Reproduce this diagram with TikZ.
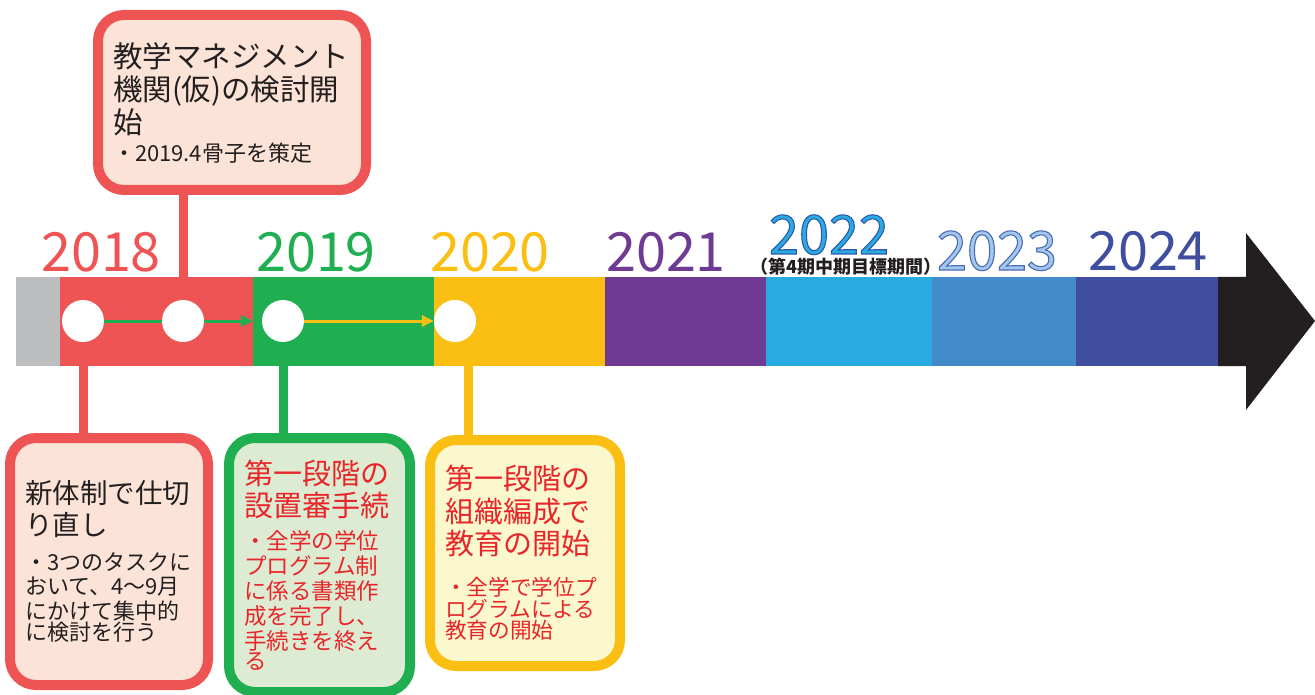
\documentclass[tikz,border=0pt]{standalone}
\usepackage{fontspec}
\setmainfont{Noto Sans CJK JP}
\usetikzlibrary{positioning,arrows.meta}
\newcommand{\rimtext}[2]{\special{pdf:literal direct 2 Tr 1.1 w #1 RG}#2\special{pdf:literal direct 0 Tr}}
\definecolor{tlred}{HTML}{EF5455}
\definecolor{tlgreen}{HTML}{1FAF50}
\definecolor{tlyellow}{HTML}{FBBF13}
\definecolor{tlpurple}{HTML}{6E3A92}
\definecolor{tlcyan}{HTML}{29ABE2}
\definecolor{tlsteel}{HTML}{428BC8}
\definecolor{tlnavy}{HTML}{404E9F}
\definecolor{tlblack}{HTML}{231F20}
\definecolor{tlgray}{HTML}{BDBEC0}
\definecolor{tlpeach}{HTML}{FBE3D7}
\definecolor{tlmint}{HTML}{DEEBD3}
\definecolor{tlcream}{HTML}{FBF8CE}
\definecolor{tltext}{HTML}{231F20}
\definecolor{tlalert}{HTML}{E8262A}
\definecolor{tlpale}{HTML}{A3C6EC}

\begin{document}
\begin{tikzpicture}[x=1pt,y=-1pt,
    seg/.style={fill=#1,minimum height=89pt,inner sep=0pt,outer sep=0pt},
    dot/.style={circle,fill=white,minimum size=42pt,inner sep=0pt},
    year/.style={text=#1,font=\fontsize{54}{54}\selectfont,anchor=base,inner sep=0pt},
    box/.style={draw=#1,line width=10pt,rounded corners=26pt,outer sep=0pt,
      align=left,inner xsep=15pt,inner ysep=0pt},
    link/.style={draw=#1,line width=9pt},
    flow/.style={draw=#1,line width=3pt}]
  \useasboundingbox (0,0) rectangle (1315,695);

  % the bar
  \node[seg=tlgray,minimum width=44pt,anchor=north west] (gseg) at (16,277) {};
  \node[seg=tlred,minimum width=193pt,right=0pt of gseg] (rseg) {};
  \node[seg=tlgreen,minimum width=181pt,right=0pt of rseg] (eseg) {};
  \node[seg=tlyellow,minimum width=171pt,right=0pt of eseg] (yseg) {};
  \node[seg=tlpurple,minimum width=161pt,right=0pt of yseg] (pseg) {};
  \node[seg=tlcyan,minimum width=166pt,right=0pt of pseg] (cseg) {};
  \node[seg=tlsteel,minimum width=144pt,right=0pt of cseg] (sseg) {};
  \node[seg=tlnavy,minimum width=142pt,right=0pt of sseg] (nseg) {};
  \fill[tlblack] (nseg.north east) -- (1246,277) -- (1246,233) -- (1315,321)
    -- (1246,410) -- (1246,366) -- (nseg.south east) -- cycle;

  % years
  \node[year=tlred] (y2018) at (101,272) {2018};
  \node[year=tlgreen] (y2019) at (316,272) {2019};
  \node[year=tlyellow] (y2020) at (490,272) {2020};
  \node[year=tlpurple] (y2021) at (666,272) {2021};
  \node[year=tlcyan] (y2022) at (829,254) {\rimtext{0.18 0.35 0.66}{2022}};
  \node[year=tlpale] (y2023) at (997,270) {\rimtext{0.29 0.42 0.71}{2023}};
  \node[year=tlnavy] (y2024) at (1148,270) {2024};
  \node[text=tltext,font=\fontsize{18}{18}\selectfont\bfseries,inner sep=0pt]
    (term) at (846,267) {（第4期中期目標期間）};

  % milestones
  \node[dot] (c1) at (83,321) {};
  \node[dot] (c2) at (183,321) {};
  \node[dot] (c3) at (283,321) {};
  \node[dot] (c4) at (455,321) {};
  \draw[flow=tlgreen] (c1.east) -- (c2.west);
  \draw[flow=tlgreen,-{Triangle[length=12pt,width=11pt]}] (c2.east) -- (c2 -| rseg.east);
  \draw[flow=tlyellow,-{Triangle[length=12pt,width=11pt]}] (c3.east) -- (c4.west);

  % boxes
  \node[box=tlred,fill=tlpeach,text=tltext,text width=238pt,minimum height=175pt]
    (plan) at (232,102.5) {\fontsize{29.5}{33}\selectfont
    教学マネジメント\\機関(仮)の検討開\\始\par\vspace{6pt}
    \fontsize{22}{24}\selectfont ・2019.4骨子を策定};
  \node[box=tlred,fill=tlpeach,text=tltext,text width=168pt,minimum height=247pt]
    (reset) at (109,561.5) {\fontsize{27.5}{32}\selectfont
    新体制で仕切\\り直し\par\vspace{10pt}
    \fontsize{22}{24.7}\selectfont ・3つのタスクに\\おいて、4〜9月\\にかけて集中的\\に検討を行う};
  \node[box=tlgreen,fill=tlmint,text=tlalert,text width=151pt,minimum height=254pt]
    (apply) at (319.5,565) {\fontsize{29}{32}\selectfont
    第一段階の\\設置審手続\par\vspace{8pt}
    \fontsize{22.5}{25}\selectfont ・全学の学位\\プログラム制\\に係る書類作\\成を完了し、\\手続きを終え\\る};
  \node[box=tlyellow,fill=tlcream,text=tlalert,text width=160pt,minimum height=226pt]
    (start) at (525,553) {\fontsize{29}{32.5}\selectfont
    第一段階の\\組織編成で\\教育の開始\par\vspace{18pt}
    \fontsize{21.7}{22.5}\selectfont ・全学で学位プ\\ログラムによる\\教育の開始};

  % connectors
  \draw[link=tlred] (c2 |- plan.south) -- (c2 |- rseg.north);
  \draw[link=tlred] (c1 |- rseg.south) -- (c1 |- reset.north);
  \draw[link=tlgreen] (c3 |- eseg.south) -- (c3 |- apply.north);
  \draw[link=tlyellow] ([xshift=13pt]c4.center |- yseg.south) -- ([xshift=13pt]c4.center |- start.north);
\end{tikzpicture}
\end{document}
